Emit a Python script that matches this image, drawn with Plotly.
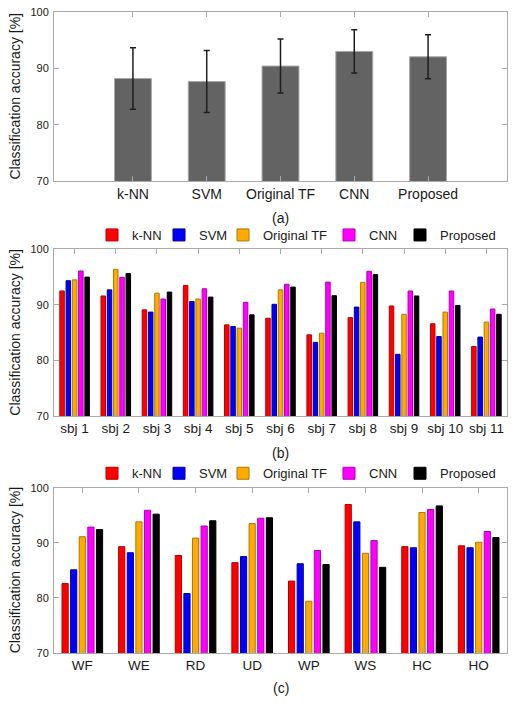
import plotly.graph_objects as go

# ---------------- data ----------------
methods = ["k-NN", "SVM", "Original TF", "CNN", "Proposed"]
mean_acc = [88.2, 87.65, 90.4, 93.0, 92.05]
std_acc = [5.45, 5.5, 4.8, 3.85, 3.9]

subjects = ["sbj 1", "sbj 2", "sbj 3", "sbj 4", "sbj 5", "sbj 6",
            "sbj 7", "sbj 8", "sbj 9", "sbj 10", "sbj 11"]
sbj_knn = [92.5, 91.6, 89.1, 93.5, 86.4, 87.6, 84.6, 87.7, 89.8, 86.6, 82.5]
sbj_svm = [94.35, 92.7, 88.7, 90.6, 86.1, 90.1, 83.25, 89.6, 81.1, 84.3, 84.2]
sbj_tf = [94.5, 96.4, 92.1, 91.05, 85.8, 92.7, 84.9, 94.05, 88.3, 88.7, 86.9]
sbj_cnn = [96.1, 94.95, 91.05, 92.9, 90.45, 93.7, 94.1, 96.05, 92.5, 92.5, 89.25]
sbj_prop = [95.0, 95.65, 92.3, 91.4, 88.2, 93.2, 91.65, 95.45, 91.6, 89.9, 88.3]

motions = ["WF", "WE", "RD", "UD", "WP", "WS", "HC", "HO"]
mot_knn = [82.6, 89.3, 87.7, 86.4, 83.05, 96.95, 89.3, 89.45]
mot_svm = [85.1, 88.2, 80.8, 87.5, 86.2, 93.8, 89.1, 89.1]
mot_tf = [91.1, 93.8, 90.85, 93.5, 79.4, 88.1, 95.5, 90.1]
mot_cnn = [92.85, 95.9, 93.05, 94.45, 88.6, 90.4, 96.05, 92.05]
mot_prop = [92.4, 95.2, 94.0, 94.55, 86.05, 85.55, 96.7, 90.95]

# ---------------- style ----------------
fills = ["#ff0000", "#0000ff", "#ffaa00", "#ff00ff", "#000000"]
edges = ["#b00000", "#000099", "#b07800", "#b000b0", "#000000"]
legend_w = [22, 19, 61, 26, 54]  # legend entry widths (px)
FONT = "Liberation Sans, Arial, sans-serif"
TXT = "#1a1a1a"
AX = "#a9a9a9"

fig = go.Figure()

# (a) mean accuracy with error bars
fig.add_trace(go.Bar(
    x=methods, y=mean_acc, width=0.5,
    marker=dict(color="#636363", line=dict(color="#a8a8a8", width=1)),
    error_y=dict(type="data", array=std_acc, visible=True,
                 color="#1e1e1e", thickness=1.5, width=3),
    showlegend=False, xaxis="x", yaxis="y"))

# (b) per subject
sbj_series = [sbj_knn, sbj_svm, sbj_tf, sbj_cnn, sbj_prop]
for name, vals, fc, ec, lw in zip(methods, sbj_series, fills, edges, legend_w):
    fig.add_trace(go.Bar(
        x=subjects, y=vals, name=name, legendwidth=lw,
        marker=dict(color=fc, line=dict(color=ec, width=1)),
        xaxis="x2", yaxis="y2", legend="legend"))

# (c) per motion
mot_series = [mot_knn, mot_svm, mot_tf, mot_cnn, mot_prop]
for name, vals, fc, ec, lw in zip(methods, mot_series, fills, edges, legend_w):
    fig.add_trace(go.Bar(
        x=motions, y=vals, name=name, legendwidth=lw,
        marker=dict(color=fc, line=dict(color=ec, width=1)),
        xaxis="x3", yaxis="y3", legend="legend2"))

# ---------------- layout ----------------
H_TOP, H_BOT = 12, 53
PH = 706 - H_TOP - H_BOT


def dom(top_px, bot_px):
    return [(706 - H_BOT - bot_px) / PH, (706 - H_BOT - top_px) / PH]


dom_a = dom(12, 181)
dom_b = dom(249.3, 416)
dom_c = dom(487.7, 653)

common_ax = dict(showline=True, linecolor=AX, linewidth=1, mirror="ticks",
                 ticks="inside", ticklen=5, tickcolor=AX, showgrid=False,
                 zeroline=False, automargin=False)
yax = dict(common_ax, range=[70, 100], tickvals=[70, 80, 90, 100],
           tickfont=dict(size=11, color=TXT, family=FONT), ticklabelstandoff=2)

LEG_X = (92 - 54) / 453
fig.update_layout(
    width=516, height=706,
    margin=dict(l=54, r=9, t=H_TOP, b=H_BOT, autoexpand=False),
    paper_bgcolor="white", plot_bgcolor="white",
    font=dict(family=FONT, color=TXT),
    barmode="group", bargap=0.24, bargroupgap=0.28,
    xaxis=dict(common_ax, domain=[0, 1], anchor="y", range=[-1.07, 5.07],
               tickfont=dict(size=14, color=TXT, family=FONT)),
    yaxis=dict(yax, domain=dom_a, anchor="x"),
    xaxis2=dict(common_ax, domain=[0, 1], anchor="y2", range=[-0.5, 10.5],
                tickfont=dict(size=13.5, color=TXT, family=FONT)),
    yaxis2=dict(yax, domain=dom_b, anchor="x2"),
    xaxis3=dict(common_ax, domain=[0, 1], anchor="y3", range=[-0.5, 7.5],
                tickfont=dict(size=13.5, color=TXT, family=FONT)),
    yaxis3=dict(yax, domain=dom_c, anchor="x3"),
    legend=dict(orientation="h", x=LEG_X, xanchor="left",
                y=(706 - H_BOT - 235) / PH, yanchor="middle",
                font=dict(size=13, color=TXT, family=FONT),
                bgcolor="rgba(0,0,0,0)", itemclick=False),
    legend2=dict(orientation="h", x=LEG_X, xanchor="left",
                 y=(706 - H_BOT - 473.3) / PH, yanchor="middle",
                 font=dict(size=13, color=TXT, family=FONT),
                 bgcolor="rgba(0,0,0,0)", itemclick=False),
)

# panel captions and y titles
for lab, ypx in [("(a)", 217.7), ("(b)", 452.7), ("(c)", 687.7)]:
    fig.add_annotation(text=lab, x=0.5, xref="paper",
                       y=(706 - H_BOT - ypx) / PH, yref="paper",
                       showarrow=False, font=dict(size=14, color=TXT, family=FONT),
                       xanchor="center", yanchor="middle")

for d in (dom_a, dom_b, dom_c):
    fig.add_annotation(text="Classification accuracy [%]", textangle=-90,
                       x=(15 - 54) / 453, xref="paper",
                       y=(d[0] + d[1]) / 2, yref="paper",
                       showarrow=False, font=dict(size=14, color=TXT, family=FONT),
                       xanchor="center", yanchor="middle")

fig.write_html("out.html",
               config={"displayModeBar": False},
               post_script="document.body.style.margin='0';"
                           "document.body.style.overflow='hidden';")
